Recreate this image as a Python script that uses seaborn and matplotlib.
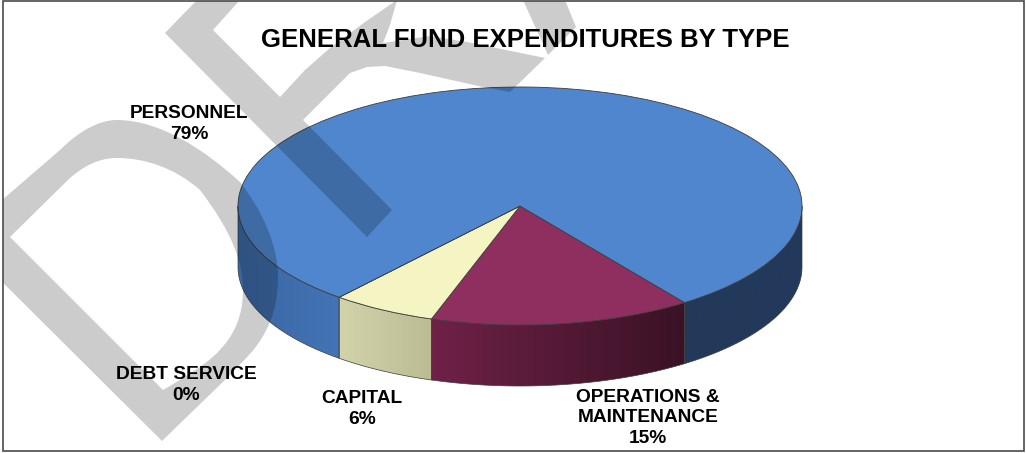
import numpy as np
import seaborn as sns
import matplotlib.pyplot as plt
from matplotlib.patches import Polygon, Rectangle, PathPatch
from matplotlib.path import Path

# values in pie order, clockwise from the right hand edge of the maroon slice
categories = ["OPERATIONS &\nMAINTENANCE", "CAPITAL", "DEBT SERVICE", "PERSONNEL"]
shares = [15, 6, 0, 79]
top_colors = ["#8f2f5f", "#f5f5c4", "#c0504d", "#4f86cd"]
# one (left, right) colour pair for each visible piece of a slice's side wall
wall_colors = [[("#6f2147", "#3a1225")], [("#d3d3ab", "#bcbc94")], [],
               [("#22395a", "#22395c"), ("#3a67a3", "#4474b5")]]
title = "GENERAL FUND EXPENDITURES BY TYPE"

W, H = 1026, 453
CX, CY, RX, RY = 520, 206, 282, 119
DEPTH = 61 / RY

sns.set_theme(style="white")
plt.rcParams["font.family"] = ["Liberation Sans", "DejaVu Sans"]

fig = plt.figure(figsize=(W / 100, H / 100), dpi=100)
ax = fig.add_axes([0, 0, 1, 1])

wedges, _ = ax.pie(shares, radius=1, startangle=-54.3, counterclock=False, colors=top_colors,
                   wedgeprops={"edgecolor": "#3c3c3c", "linewidth": 0.6, "zorder": 5})


def front_spans(t1, t2):
    # parts of a wedge that lie on the near side of the disc
    spans = []
    for k in range(-2, 2):
        a, b = max(t1, -180 + 360 * k), min(t2, 360 * k)
        if b > a:
            spans.append((a, b))
    return spans


for wedge, pairs, share in zip(wedges, wall_colors, shares):
    if share == 0:
        continue
    for (a, b), (c_a, c_b) in zip(front_spans(wedge.theta1, wedge.theta2), pairs):
        t = np.radians(np.linspace(a, b, 80))
        x, y = np.cos(t), np.sin(t)
        verts = np.r_[np.c_[x, y], np.c_[x, y - DEPTH][::-1]]
        poly = Polygon(verts, closed=True, facecolor="none", edgecolor="#3c3c3c", linewidth=0.5, zorder=3)
        ax.add_patch(poly)
        cmap = sns.blend_palette([c_a, c_b], n_colors=64, as_cmap=True)
        im = ax.imshow(np.linspace(0, 1, 128).reshape(1, -1), cmap=cmap, aspect="auto", zorder=2,
                       extent=(x.min(), x.max(), y.min() - DEPTH, y.max()))
        im.set_clip_path(poly)

ax.set_aspect("auto")
ax.set_xlim((0 - CX) / RX, (W - CX) / RX)
ax.set_ylim((CY - H) / RY, CY / RY)

# overlay in pixel units for the watermark, the frame and the labels
over = fig.add_axes([0, 0, 1, 1], facecolor="none")
over.set_xlim(0, W)
over.set_ylim(H, 0)
over.axis("off")

frame = Rectangle((3, 0.5), W - 5, H - 3, facecolor="none", edgecolor="#4a4a4a", linewidth=1.2, zorder=9)
over.add_patch(frame)

M, L, C, Z = Path.MOVETO, Path.LINETO, Path.CURVE4, Path.CLOSEPOLY
d_verts = [(-42, 238), (60, 150),
           (80, 130), (100, 120), (117, 120),
           (160, 120), (205, 150), (240, 182),
           (262, 210), (278, 245), (278, 277),
           (278, 295), (275, 310), (270, 322),
           (258, 350), (245, 358), (230, 375),
           (162, 441), (-42, 238),
           (10, 237), (163, 390),
           (185, 377), (205, 365), (217, 353),
           (235, 335), (243, 315), (243, 290),
           (243, 262), (232, 232), (200, 190),
           (175, 168), (145, 158), (117, 158),
           (100, 158), (85, 165), (70, 178),
           (10, 237), (10, 237)]
d_codes = [M, L, C, C, C, C, C, C, C, C, C, C, C, C, C, C, C, L, Z,
           M, L, C, C, C, C, C, C, C, C, C, C, C, C, C, C, C, L, Z]
d_patch = PathPatch(Path(d_verts, d_codes), facecolor="black", edgecolor="none", alpha=0.2, zorder=6)
over.add_patch(d_patch)
d_patch.set_clip_path(frame)

r_shape = np.array([(165, 33), (197, 0), (240, 0), (213, 30), (280, 97), (305, 70), (330, 48), (365, 22), (397, 0),
                    (390, 25), (383, 43), (430, 36), (467, 42), (545, 58), (510, 92), (483, 87), (420, 73),
                    (385, 66), (367, 67), (350, 73), (303, 120), (392, 210), (367, 237)])
a_shape = np.array([(523, 0), (565, 0), (576, 27), (548, 55)])
for shape in [r_shape, a_shape]:
    wm = Polygon(shape, closed=True, facecolor="black", edgecolor="none", alpha=0.2, zorder=6)
    over.add_patch(wm)
    wm.set_clip_path(frame)

over.text(525, 40, title, ha="center", va="center", fontsize=18.5, fontweight="bold", color="black", zorder=10)

label_pos = [(648, 418), (362, 409), (186, 385), (189, 124)]
for cat, share, (lx, ly) in zip(categories, shares, label_pos):
    over.text(lx, ly, f"{cat}\n{share}%", ha="center", va="center", fontsize=13.8, fontweight="bold",
              color="black", linespacing=1.27, zorder=10)

fig.savefig("out.png", dpi=100, facecolor="white")
